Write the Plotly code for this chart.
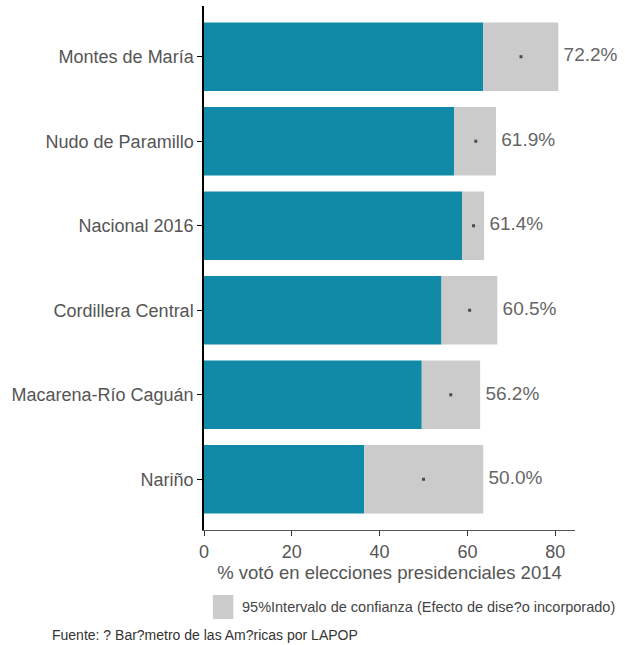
import plotly.graph_objects as go

categories = ["Montes de María", "Nudo de Paramillo", "Nacional 2016",
              "Cordillera Central", "Macarena-Río Caguán", "Nariño"]
estimate = [72.2, 61.9, 61.4, 60.5, 56.2, 50.0]
lower = [63.6, 57.0, 58.8, 54.1, 49.6, 36.5]
upper = [80.7, 66.5, 63.8, 66.8, 62.9, 63.6]
x_ticks = [0, 20, 40, 60, 80]

TEAL = "#118AA8"
GREY = "#CBCBCB"
FONT = "Liberation Sans, Arial, sans-serif"

ci_width = [u - l for u, l in zip(upper, lower)]
labels = [f" {v:.1f}%" for v in estimate]

fig = go.Figure()
fig.add_trace(go.Bar(y=categories, x=lower, orientation="h",
                     marker=dict(color=TEAL, line=dict(width=0)),
                     showlegend=False, hoverinfo="skip"))
fig.add_trace(go.Bar(y=categories, x=ci_width, base=lower, orientation="h",
                     marker=dict(color=GREY, line=dict(width=0)),
                     showlegend=False, hoverinfo="skip"))
fig.add_trace(go.Scatter(y=categories, x=estimate, mode="markers",
                         marker=dict(symbol="square", size=3, color="#4a4a4a"),
                         showlegend=False, hoverinfo="skip"))
fig.add_trace(go.Scatter(y=categories, x=upper, mode="text", text=labels,
                         textposition="middle right",
                         textfont=dict(family=FONT, size=19, color="#666666"),
                         showlegend=False, hoverinfo="skip", cliponaxis=False))

fig.update_layout(
    width=625, height=645,
    margin=dict(l=204, r=50, t=6, b=115),
    paper_bgcolor="white", plot_bgcolor="white",
    barmode="overlay", bargap=0.19,
    font=dict(family=FONT),
    xaxis=dict(range=[0, 84.5], tickvals=x_ticks, ticks="outside", ticklen=5,
               tickcolor="#333333", showline=True, linecolor="#555555", linewidth=1,
               showgrid=False, zeroline=False,
               tickfont=dict(family=FONT, size=18, color="#555555"),
               title=dict(text="% votó en elecciones presidenciales 2014",
                          font=dict(family=FONT, size=18.5, color="#555555"),
                          standoff=4)),
    yaxis=dict(type="category", categoryarray=categories, range=[5.6, -0.6],
               ticks="outside", ticklen=5, tickcolor="#000000",
               showline=True, linecolor="#000000", linewidth=1.5,
               showgrid=False, zeroline=False,
               tickfont=dict(family=FONT, size=18, color="#555555")),
)

# legend swatch and text
fig.add_shape(type="rect", xref="paper", yref="paper",
              x0=0.024, x1=0.079, y0=-0.170, y1=-0.124,
              fillcolor=GREY, line=dict(width=0))
fig.add_annotation(xref="paper", yref="paper", x=0.097, y=-0.147,
                   xanchor="left", yanchor="middle", showarrow=False,
                   text="95%Intervalo de confianza (Efecto de dise?o incorporado)",
                   font=dict(family=FONT, size=14.5, color="#444444"))
fig.add_annotation(xref="paper", yref="paper", x=-0.415, y=-0.200,
                   xanchor="left", yanchor="middle", showarrow=False,
                   text="Fuente: ? Bar?metro de las Am?ricas por LAPOP",
                   font=dict(family=FONT, size=14, color="#333333"))

fig.write_html("out.html", config={"displayModeBar": False},
               post_script="document.body.style.margin='0';document.body.style.overflow='hidden';")
